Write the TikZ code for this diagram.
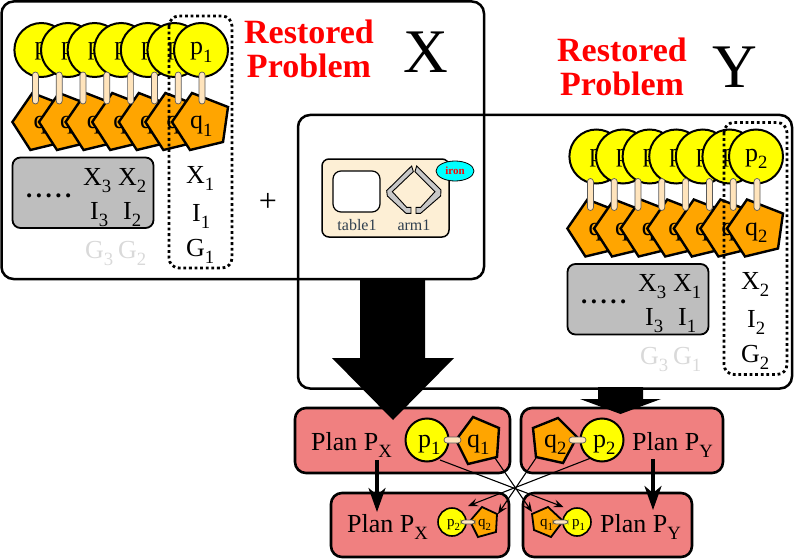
\documentclass[tikz,border=0pt]{standalone}
\usepackage{fontspec}
\usepackage{graphicx}
\setmainfont{Liberation Serif}
\usetikzlibrary{arrows.meta,shapes.geometric}
\definecolor{planred}{HTML}{F08080}
\definecolor{stickc}{HTML}{FFE4BC}
\definecolor{toolbg}{HTML}{FDEFD5}
\definecolor{graybox}{HTML}{BEBEBE}
\definecolor{ghost}{HTML}{D9D9D9}
\definecolor{armgray}{HTML}{C8C8C8}
\definecolor{slatetxt}{HTML}{2F3F4F}
\definecolor{ballc}{RGB}{255,255,0}
\definecolor{pentc}{RGB}{255,165,0}
\definecolor{ironc}{RGB}{0,255,255}
\definecolor{redc}{RGB}{255,0,0}
\newcommand\subs[1]{\raisebox{-.28em}{\scalebox{.72}{#1}}}
\newcommand\fs[1]{\fontsize{#1}{#1}\selectfont}
\tikzset{
  bigbox/.style={draw=black,line width=2.5pt,rounded corners=12pt},
  dotbox/.style={draw=black,line width=2.8pt,dash pattern=on 2.8pt off 2.8pt,rounded corners=10pt},
  ball/.style={draw=black,line width=2pt,fill=ballc},
  penta/.style={draw=black,line width=2.4pt,fill=pentc,line join=miter},
  stickv/.style={draw=black!65,line width=.7pt,fill=stickc,rounded corners=3pt},
  grayb/.style={draw=black,line width=1.8pt,fill=graybox,rounded corners=8pt},
  planbox/.style={draw=black,line width=2.6pt,fill=planred,rounded corners=11pt},
  txt/.style={inner sep=0pt,anchor=base west,font=\fs{26}},
  ptxt/.style={inner sep=0pt,anchor=base west,font=\fs{26}},
  smalltxt/.style={inner sep=0pt,anchor=base west,font=\fs{15}},
  ghosttxt/.style={txt,text=ghost},
  redt/.style={inner sep=0pt,anchor=base,text=redc,font=\fs{34}\bfseries,align=center},
  thickarrow/.style={draw=black,line width=3.4pt,-{Stealth[length=24pt,width=17pt,inset=7pt]}},
  thinarrow/.style={draw=black,line width=1.1pt,-{Stealth[length=10pt,width=8pt,inset=4pt]}},
}
\newcommand\robotstack[3]{%
  \foreach \k in {6,5,4,3,2,1}{
    \draw[ball] (201-26.6*\k,50) circle[radius=27];
    \node[txt] (#1p\k) at (194-26.6*\k,55) {p};
  }
  \draw[ball] (201,50) circle[radius=27];
  \foreach \k in {6,5,4,3,2,1}{
    \draw[penta] (172-26.6*\k,122) -- (192-26.6*\k,93) -- (228-26.6*\k,107) -- (223-26.6*\k,142) -- (190-26.6*\k,150) -- cycle;
    \node[txt] (#1q\k) at (193-26.6*\k,129) {q};
  }
  \draw[penta] (172,122) -- (192,93) -- (228,107) -- (223,142) -- (190,150) -- cycle;
  \node[txt] (#1pl) at (190,55) {p\subs{#2}};
  \node[txt] (#1ql) at (190,129) {q\subs{#2}};
  \foreach \k in {0,...,7}{
    \draw[stickv] (199-23.8*\k,72) rectangle (205-23.8*\k,104);
  }
  \draw[grayb] (12.5,157.5) rectangle (153.5,228);
  \node[inner sep=0pt,anchor=base west,font=\fs{25}\bfseries] (#1dots) at (26,197) {.\kern3.5pt.\kern3.5pt.\kern3.5pt.\kern3.5pt.};
  \node[txt] (#1xa) at (83,185) {X\subs{3}};
  \node[txt] (#1xb) at (118,185) {X\subs{#3}};
  \node[txt] (#1ia) at (90,219) {I\subs{3}};
  \node[txt] (#1ib) at (123,219) {I\subs{#3}};
  \node[ghosttxt] (#1ga) at (85,258) {G\subs{3}};
  \node[ghosttxt] (#1gb) at (118,258) {G\subs{#3}};
  \node[txt] (#1xo) at (186,183) {X\subs{#2}};
  \node[txt] (#1io) at (192,221) {I\subs{#2}};
  \node[txt] (#1go) at (186,256) {G\subs{#2}};
  \draw[dotbox] (169,16) rectangle (232,268);
}
\begin{document}
\begin{tikzpicture}[x=1pt,y=-1pt]
\useasboundingbox (0,0) rectangle (795,559);
% frames
\draw[bigbox] (1.5,1.5) rectangle (484,279);
\draw[bigbox] (298,115) rectangle (792,388.5);
% stacks
\robotstack{a}{1}{2}
\begin{scope}[shift={(555,106.5)}]
\robotstack{b}{2}{1}
\end{scope}
% headings
\node[redt] (r1) at (309,44) {Restored};
\node[redt] (r2) at (309,78) {Problem};
\node[redt] (r3) at (622,62) {Restored};
\node[redt] (r4) at (622,96) {Problem};
\node[inner sep=0pt,anchor=base,font=\fs{62}] (bigx) at (426,73) {X};
\node[inner sep=0pt,anchor=base,font=\fs{62}] (bigy) at (735,88) {Y};
\node[inner sep=0pt,anchor=center,font=\fs{32}] (plus) at (268,202) {+};
% tool
\draw[draw=black,line width=1.5pt,fill=toolbg,rounded corners=7pt] (322,159) rectangle (449,237);
\draw[draw=black,line width=1.2pt,fill=white,rounded corners=8pt] (333,171) rectangle (380,212);
\node[inner sep=0pt,anchor=base,text=slatetxt,font=\fs{16}] (tab) at (357,230) {table1};
\node[inner sep=0pt,anchor=base,text=slatetxt,font=\fs{16}] (arm) at (414,230) {arm1};
\begin{scope}[shift={(300,120)},x=.3333pt,y=-.3333pt]
\draw[draw=black,line width=.9pt,fill=armgray] (335,138) -- (260,212) -- (262,228) -- (318,280) -- (333,280) -- (333,262) -- (320,262) -- (277,215) -- (340,155) -- cycle;
\draw[draw=black,line width=.9pt,fill=armgray] (345,155) -- (405,215) -- (362,262) -- (348,262) -- (348,280) -- (362,280) -- (422,228) -- (423,210) -- (350,138) -- cycle;
\end{scope}
\node[ellipse,draw=black,line width=.8pt,fill=ironc,minimum width=38pt,minimum height=20pt,inner sep=0pt,text=redc,font=\fs{11}\bfseries] (iron) at (455,171) {iron};
% plans
\node[planbox,minimum width=215pt,minimum height=65pt,inner sep=0pt] (pxa) at (402.5,440.5) {};
\node[planbox,minimum width=202pt,minimum height=65pt,inner sep=0pt] (pya) at (622,440.5) {};
\node[planbox,minimum width=178pt,minimum height=64pt,inner sep=0pt] (pxb) at (420,525) {};
\node[planbox,minimum width=169pt,minimum height=64pt,inner sep=0pt] (pyb) at (607.5,525) {};
% block arrows
\coordinate (bigfrom) at (392.5,279);
\coordinate (bigto) at (393,420);
\coordinate (smallfrom) at (620.5,387);
\coordinate (smallto) at (620.5,414);
\fill[black] (bigfrom) ++(-32.5,0) -- ++(65,0) -- (425,358) -- (454,358) -- (bigto) -- (332,358) -- (360,358) -- cycle;
\fill[black] (smallfrom) ++(-22.5,0) -- ++(45,0) -- (643,399) -- (661,399) -- (smallto) -- (580,399) -- (598,399) -- cycle;
% top left mini
\draw[ball] (427,440) circle[radius=21.5];
\draw[penta] (456,440) -- (473,417) -- (499,428) -- (497,457) -- (468,464) -- cycle;
\draw[stickv] (444,437) rectangle (461,443);
\node[txt] (m1p) at (418,447) {p\subs{1}};
\node[txt] (m1q) at (467,447) {q\subs{1}};
\node[ptxt] (m1t) at (311,450) {Plan P\subs{X}};
% top right mini
\draw[ball] (602,440) circle[radius=21.5];
\draw[penta] (577,437) -- (558,418) -- (533,428) -- (536,457) -- (563,463) -- cycle;
\draw[stickv] (569,437) rectangle (586,443);
\node[txt] (m2q) at (544,447) {q\subs{2}};
\node[txt] (m2p) at (593,447) {p\subs{2}};
\node[ptxt] (m2t) at (632,450) {Plan P\subs{Y}};
% bottom left mini
\draw[ball,line width=1.6pt] (452,522) circle[radius=14];
\draw[penta,line width=1.8pt] (470,521) -- (482,507) -- (497,514) -- (496,532) -- (478,537) -- cycle;
\draw[stickv] (461,520) rectangle (475,524);
\node[smalltxt] (m3p) at (447,526) {p\subs{2}};
\node[smalltxt] (m3q) at (478,526) {q\subs{2}};
\node[ptxt] (m3t) at (347,532) {Plan P\subs{X}};
% bottom right mini
\draw[ball,line width=1.6pt] (577,522) circle[radius=14];
\draw[penta,line width=1.8pt] (563,521) -- (548,507) -- (532,514) -- (534,530) -- (551,537) -- cycle;
\draw[stickv] (553,520) rectangle (568,524);
\node[smalltxt] (m4q) at (540,526) {q\subs{1}};
\node[smalltxt] (m4p) at (572,526) {p\subs{1}};
\node[ptxt] (m4t) at (600,532) {Plan P\subs{Y}};
% arrows
\coordinate (a1) at (377,460); \coordinate (a2) at (377,512);
\coordinate (b1) at (653,459); \coordinate (b2) at (653,510);
\draw[thickarrow] (a1) -- (a2);
\draw[thickarrow] (b1) -- (b2);
\coordinate (p1s) at (440,460); \coordinate (p1t) at (563.5,507);
\coordinate (q1s) at (495,458); \coordinate (q1t) at (532,512);
\coordinate (q2s) at (536,458); \coordinate (q2t) at (498,514);
\coordinate (p2s) at (591,458); \coordinate (p2t) at (468,506);
\draw[thinarrow] (p1s) -- (p1t);
\draw[thinarrow] (q1s) -- (q1t);
\draw[thinarrow] (q2s) -- (q2t);
\draw[thinarrow] (p2s) -- (p2t);
\end{tikzpicture}
\end{document}
